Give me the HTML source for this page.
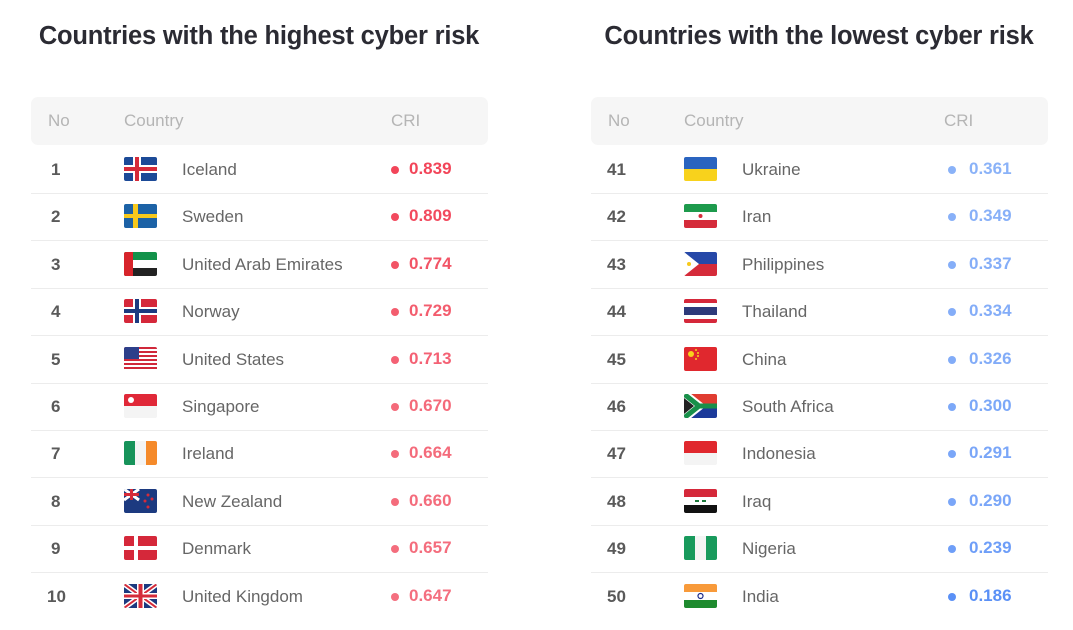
<!DOCTYPE html>
<html><head><meta charset="utf-8"><style>
body{margin:0;width:1073px;height:630px;background:#fff;font-family:"Liberation Sans",sans-serif;position:relative;overflow:hidden}
.t{position:absolute;top:22px;font-size:25.5px;font-weight:bold;color:#2b2b33;text-align:center;width:460px;letter-spacing:-0.2px}
.hd{position:absolute;top:97px;height:48px;width:457px;background:#f6f6f6;border-radius:7px}
.hd span{position:absolute;top:14px;font-size:17px;color:#b5b5b5}
.row{position:absolute;height:47px;width:457px;border-bottom:1px solid #ececec}
.row .n{position:absolute;top:14px;font-size:17px;color:#5a5a5a;font-weight:bold}
.row svg{position:absolute;left:93px;top:11px;border-radius:2px}
.row .c{position:absolute;left:151px;top:14px;font-size:17px;color:#666}
.row .d{position:absolute;top:20px;width:8px;height:8px;border-radius:50%}
.row .v{position:absolute;left:378px;top:13px;font-size:17px;font-weight:bold}
</style></head><body>
<div class="t" style="left:29px">Countries with the highest cyber risk</div>
<div class="t" style="left:589px">Countries with the lowest cyber risk</div>
<div class="hd" style="left:31px"><span style="left:17px">No</span><span style="left:93px">Country</span><span style="left:360px">CRI</span></div>
<div class="hd" style="left:591px"><span style="left:17px">No</span><span style="left:93px">Country</span><span style="left:353px">CRI</span></div>
<div id="L"></div>
<script>
const F={
is:'<rect width="33" height="24" fill="#1c4a97"/><rect x="9" width="8" height="24" fill="#fff"/><rect y="8" width="33" height="8" fill="#fff"/><rect x="11" width="4" height="24" fill="#d52b3a"/><rect y="10" width="33" height="4" fill="#d52b3a"/>',
se:'<rect width="33" height="24" fill="#1c62a6"/><rect x="9" width="5" height="24" fill="#f7c91c"/><rect y="10" width="33" height="4" fill="#f7c91c"/>',
ae:'<rect width="33" height="8" fill="#12924a"/><rect y="8" width="33" height="8" fill="#fff"/><rect y="16" width="33" height="8" fill="#222"/><rect width="9" height="24" fill="#d7242b"/>',
no:'<rect width="33" height="24" fill="#d5283a"/><rect x="9" width="8" height="24" fill="#fff"/><rect y="8" width="33" height="8" fill="#fff"/><rect x="11" width="4" height="24" fill="#1c3a80"/><rect y="10" width="33" height="4" fill="#1c3a80"/>',
us:'<rect width="33" height="24" fill="#fff"/><g fill="#d0283a"><rect width="33" height="2"/><rect y="4" width="33" height="2"/><rect y="8" width="33" height="2"/><rect y="12" width="33" height="2"/><rect y="16" width="33" height="2"/><rect y="20" width="33" height="2"/></g><rect width="15" height="12" fill="#2d3f8a"/>',
sg:'<rect width="33" height="12" fill="#e02838"/><rect y="12" width="33" height="12" fill="#f4f4f4"/><circle cx="7" cy="6" r="3" fill="#fff"/>',
ie:'<rect width="11" height="24" fill="#17935a"/><rect x="11" width="11" height="24" fill="#f4f4f4"/><rect x="22" width="11" height="24" fill="#f58a2a"/>',
nz:'<rect width="33" height="24" fill="#1c3a80"/><path d="M0 0L15 11M15 0L0 11" stroke="#fff" stroke-width="3"/><rect x="6" width="3" height="11" fill="#d52b3a"/><rect y="4" width="15" height="3" fill="#d52b3a"/><g fill="#d52b3a"><circle cx="24" cy="6" r="1.5"/><circle cx="28" cy="10" r="1.5"/><circle cx="21" cy="12" r="1.5"/><circle cx="24" cy="18" r="1.5"/></g>',
dk:'<rect width="33" height="24" fill="#d5283a"/><rect x="10" width="4" height="24" fill="#fff"/><rect y="10" width="33" height="4" fill="#fff"/>',
gb:'<rect width="33" height="24" fill="#1c3a80"/><path d="M0 0L33 24M33 0L0 24" stroke="#fff" stroke-width="5"/><path d="M0 0L33 24M33 0L0 24" stroke="#d52b3a" stroke-width="2"/><rect x="13" width="7" height="24" fill="#fff"/><rect y="9" width="33" height="6" fill="#fff"/><rect x="14.5" width="4" height="24" fill="#d52b3a"/><rect y="10.5" width="33" height="3" fill="#d52b3a"/>',
ua:'<rect width="33" height="12" fill="#2a64c0"/><rect y="12" width="33" height="12" fill="#f8d21c"/>',
ir:'<rect width="33" height="8" fill="#1d9a4c"/><rect y="8" width="33" height="8" fill="#fff"/><rect y="16" width="33" height="8" fill="#d52b3a"/><circle cx="16.5" cy="12" r="2" fill="#d52b3a"/>',
ph:'<rect width="33" height="12" fill="#2648a8"/><rect y="12" width="33" height="12" fill="#d52b3a"/><path d="M0 0L15 12L0 24Z" fill="#fff"/><circle cx="5" cy="12" r="2" fill="#f7c91c"/>',
th:'<rect width="33" height="24" fill="#d5283a"/><rect y="4" width="33" height="16" fill="#fff"/><rect y="8" width="33" height="8" fill="#2d3a7a"/>',
cn:'<rect width="33" height="24" fill="#e0282e"/><circle cx="7" cy="7" r="3" fill="#f8d21c"/><g fill="#f8d21c"><circle cx="12" cy="3" r="1"/><circle cx="14" cy="6" r="1"/><circle cx="14" cy="9" r="1"/><circle cx="12" cy="12" r="1"/></g>',
za:'<rect width="33" height="12" fill="#e03c31"/><rect y="12" width="33" height="12" fill="#1c3a9a"/><path d="M0 0L15 12L0 24" fill="none" stroke="#fff" stroke-width="9"/><path d="M0 0L15 12L33 12M15 12L0 24" fill="none" stroke="#18904a" stroke-width="5"/><path d="M0 4L10 12L0 20Z" fill="#222"/>',
id:'<rect width="33" height="12" fill="#e0282e"/><rect y="12" width="33" height="12" fill="#f4f4f4"/>',
iq:'<rect width="33" height="8" fill="#d5283a"/><rect y="8" width="33" height="8" fill="#fff"/><rect y="16" width="33" height="8" fill="#111"/><rect x="11" y="11" width="4" height="2" fill="#1d7a3c"/><rect x="18" y="11" width="4" height="2" fill="#1d7a3c"/>',
ng:'<rect width="11" height="24" fill="#189a5c"/><rect x="11" width="11" height="24" fill="#f4f4f4"/><rect x="22" width="11" height="24" fill="#189a5c"/>',
in:'<rect width="33" height="8" fill="#f89a3a"/><rect y="8" width="33" height="8" fill="#fff"/><rect y="16" width="33" height="8" fill="#1e8a2e"/><circle cx="16.5" cy="12" r="2.5" fill="none" stroke="#1c2a8a" stroke-width="1.2"/>'};
const A=[[1,'is','Iceland','0.839','#f24559'],[2,'se','Sweden','0.809','#f24a5e'],[3,'ae','United Arab Emirates','0.774','#f25466'],[4,'no','Norway','0.729','#f35d6e'],[5,'us','United States','0.713','#f46174'],[6,'sg','Singapore','0.670','#f46a7a'],[7,'ie','Ireland','0.664','#f46b7b'],[8,'nz','New Zealand','0.660','#f46c7c'],[9,'dk','Denmark','0.657','#f46d7d'],[10,'gb','United Kingdom','0.647','#f46f7f']];
const B=[[41,'ua','Ukraine','0.361','#8ab2f8'],[42,'ir','Iran','0.349','#88b0f8'],[43,'ph','Philippines','0.337','#85aef8'],[44,'th','Thailand','0.334','#84adf8'],[45,'cn','China','0.326','#82acf8'],[46,'za','South Africa','0.300','#7ca8f8'],[47,'id','Indonesia','0.291','#7aa6f8'],[48,'iq','Iraq','0.290','#7aa6f8'],[49,'ng','Nigeria','0.239','#6e9ef8'],[50,'in','India','0.186','#5a90f6']];
let h='';
[[A,31,360],[B,591,357]].forEach(([D,x,dx])=>D.forEach((r,i)=>{
h+=`<div class="row" style="left:${x}px;top:${146+i*47.4}px;${i==9?'border-bottom:none':''}"><span class="n" style="left:${r[0]>9?16:20}px">${r[0]}</span><svg width="33" height="24" viewBox="0 0 33 24">${F[r[1]]}</svg><span class="c">${r[2]}</span><span class="d" style="left:${dx}px;background:${r[4]}"></span><span class="v" style="color:${r[4]}">${r[3]}</span></div>`;}));
document.getElementById('L').innerHTML=h;
</script>
</body></html>
